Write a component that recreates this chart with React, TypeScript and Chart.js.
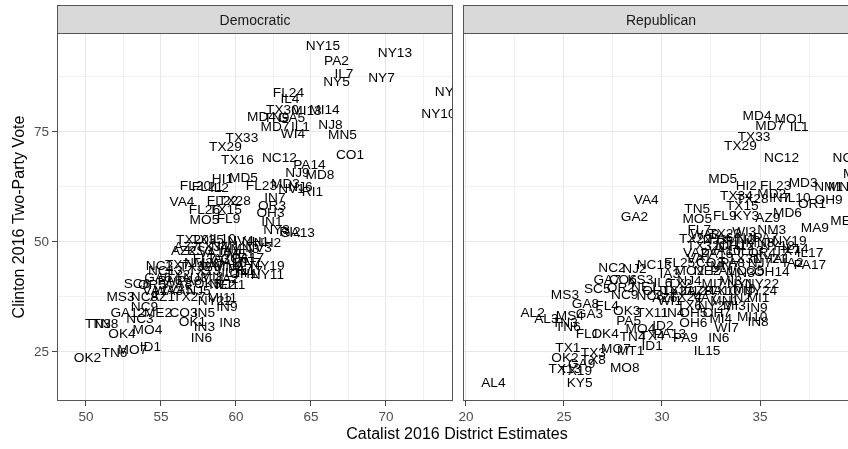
import React, { useEffect, useRef } from "react";
import { Chart, registerables } from "chart.js";

Chart.register(...registerables);

const FONT = '"Liberation Sans", Arial, Helvetica, sans-serif';

// Democratic panel: district, Catalist estimate, Clinton two-party vote
const demDistricts = [
  "NY15", "NY13", "PA2", "IL7", "NY5", "NY7", "NY16", "NY10", "FL24", "IL4",
  "TX30", "MI13", "MI14", "MD4", "TN9", "GA5", "MD7", "IL1", "NJ8", "WI4",
  "MN5", "TX33", "TX29", "CO1", "TX16", "NC12", "PA14", "NJ9", "MD8", "HI1",
  "MD5", "FL20", "FL21", "IL2", "FL23", "MD3", "NV1", "NJ6", "RI1", "VA4",
  "FL22", "TX28", "IN7", "OR3", "OH3", "FL26", "TX15", "MO5", "FL9", "IN1",
  "NY3", "RI2", "GA13", "TX20", "TX35", "IL10", "NV4", "NH1", "NH2", "AZ2",
  "KS3", "VA10", "IA1", "MN3", "NV3", "FL7", "IA3", "CO6", "PA17", "NC2",
  "TX7", "TX32", "VA7", "MN2", "PA7", "NY19", "GA6", "TX2", "NJ3", "MI8",
  "IA2", "OH1", "NY11", "SC6", "OR5", "WA8", "VA5", "OK5", "NE2", "MS3",
  "NC8", "AZ1", "TX27", "MI11", "NC9", "GA12", "ME2", "CO3", "IN5", "IN9",
  "TN3", "TN8", "NC3", "OK4", "MO4", "OK1", "IN3", "IN8", "IN6", "OK2",
  "TN6", "MO7", "ID1", "AZ7", "TX34", "NM2", "WA10", "MN7", "ME1", "NM1",
  "TX23", "IL14", "IL17", "PA8", "NJ11", "NJ5", "WA3", "NC13", "NY22", "PA6",
  "VA1",
];
const demEstimate = [
  65.8, 70.6, 66.7, 67.2, 66.7, 69.7, 74.4, 73.5, 63.5, 63.6,
  63.1, 64.7, 65.9, 61.7, 62.7, 63.7, 62.6, 64.3, 66.3, 63.8,
  67.1, 60.4, 59.3, 67.6, 60.1, 62.9, 64.9, 64.1, 65.6, 59.1,
  60.5, 57.3, 58.1, 58.9, 61.7, 63.3, 63.7, 64.3, 65.1, 56.4,
  59.1, 59.9, 62.6, 62.4, 62.3, 57.9, 59.3, 57.9, 59.5, 62.4,
  62.7, 63.6, 64.1, 57.1, 58.1, 59.1, 60.3, 61.3, 62.1, 56.5,
  57.6, 58.6, 59.6, 60.6, 61.5, 57.9, 58.9, 59.9, 60.8, 54.9,
  56.1, 57.3, 58.4, 59.5, 60.3, 62.1, 54.8, 56.1, 57.3, 58.4,
  59.5, 60.5, 62.1, 53.4, 54.4, 56.1, 56.3, 58.1, 59.1, 52.3,
  53.9, 55.1, 56.9, 59.1, 53.9, 52.8, 54.8, 56.5, 57.9, 59.4,
  50.8, 51.3, 53.6, 52.4, 54.1, 57.1, 57.9, 59.6, 57.7, 50.1,
  51.9, 53.1, 54.3, 56.7, 58.4, 57.5, 59.5, 60.7, 60.3, 59.3,
  57.9, 59.9, 60.9, 56.9, 59.6, 57.5, 55.5, 55.3, 58.6, 55.6,
  54.6,
];
const demClinton = [
  94.7, 93.1, 91.3, 88.3, 86.5, 87.4, 84.2, 79.3, 84.0, 82.7,
  80.2, 79.9, 80.2, 78.6, 78.3, 78.3, 76.3, 76.3, 76.8, 74.7,
  74.5, 73.8, 71.8, 69.9, 68.8, 69.2, 67.7, 65.8, 65.4, 64.5,
  64.7, 62.9, 62.7, 62.4, 62.9, 63.3, 62.2, 62.7, 61.5, 59.2,
  59.5, 59.5, 60.2, 58.3, 56.8, 57.4, 57.4, 55.2, 55.4, 54.7,
  52.9, 52.4, 52.2, 50.6, 50.6, 50.8, 50.4, 50.2, 49.9, 48.1,
  48.1, 47.7, 48.1, 48.6, 48.8, 46.3, 46.3, 46.3, 46.5, 44.7,
  44.9, 44.5, 44.7, 44.5, 44.0, 44.7, 42.0, 42.7, 42.0, 42.2,
  41.8, 42.9, 42.7, 40.6, 40.4, 40.6, 39.2, 40.6, 40.4, 37.7,
  37.7, 37.7, 37.7, 37.4, 35.4, 34.0, 34.0, 34.0, 34.0, 35.4,
  31.5, 31.5, 32.7, 29.2, 30.1, 32.0, 30.8, 31.8, 28.3, 23.8,
  24.9, 25.6, 26.3, 49.0, 49.0, 45.4, 45.4, 45.4, 47.4, 49.2,
  43.6, 43.1, 43.6, 41.3, 40.4, 39.0, 39.0, 43.6, 36.8, 41.3,
  39.0,
];

// Republican panel: district, Catalist estimate, Clinton two-party vote
const repDistricts = [
  "MD4", "MO1", "MD7", "IL1", "TX33", "TX29", "NC12", "NC4", "MA7", "MD5",
  "HI2", "FL23", "MD3", "NM1", "MN4", "TX34", "MD2", "IN7", "IL10", "OR1",
  "OH9", "TX28", "TX15", "TN5", "MO5", "FL9", "KY3", "AZ9", "MD6", "MA9",
  "ME1", "VA4", "GA2", "NM3", "FL7", "WA3", "WI3", "TX23", "TX22", "PA6",
  "NJ5", "NY19", "MN8", "TX32", "NJ11", "OH12", "NY18", "IL14", "VA2", "PA16",
  "VA10", "IL13", "OR4", "IL17", "NY21", "IA1", "CO3", "PA8", "NJ7", "IA2",
  "PA17", "OH14", "NC13", "NC2", "NJ2", "IA3", "MO2", "NE2", "PA1", "MN3",
  "NY22", "GA7", "CO6", "KS3", "IL6", "TX2", "MI7", "NY1", "MI8", "SC5",
  "OR2", "TX21", "IL12", "PA10", "MI6", "NC9", "NC8", "AZ6", "TX24", "VA7",
  "MN1", "IN2", "MI1", "IN9", "MI10", "IN8", "FL4", "GA8", "MS3", "AL2",
  "AL3", "MS4", "GA3", "TN3", "TN6", "FL1", "OK4", "OK3", "TX11", "IN4",
  "OH5", "OH7", "PA5", "MO4", "ID2", "OH6", "MI4", "WI7", "TN4", "TX4",
  "ID1", "PA9", "PA13", "IN6", "IL15", "TX1", "TX3", "MO7", "MT1", "OK2",
  "TX8", "MO8", "TX13", "TX19", "GA9", "KY5", "AL4", "NJ3", "MN2", "PA7",
  "VA1", "TX31", "MN7", "NJ4", "CO5", "AZ8", "TX10", "NY24", "NY27", "MI3",
  "TX6", "FL25", "OH16", "NE1", "WI1", "TX7",
];
const repEstimate = [
  34.85, 36.5, 35.5, 37.0, 34.7, 34.0, 36.1, 39.4, 39.95, 33.1,
  34.3, 35.8, 37.2, 38.5, 39.2, 33.8, 35.6, 36.0, 36.9, 37.65,
  38.5, 34.6, 34.1, 31.8, 31.8, 33.2, 34.3, 35.4, 36.4, 37.8,
  39.3, 29.2, 28.6, 35.6, 31.9, 32.2, 34.2, 33.2, 31.7, 33.0,
  34.4, 36.5, 35.0, 32.1, 33.5, 33.8, 35.9, 36.8, 31.7, 32.8,
  33.2, 34.5, 35.1, 37.55, 35.5, 36.0, 32.45, 33.6, 35.0, 36.7,
  37.55, 35.6, 29.6, 27.45, 28.6, 30.4, 31.4, 32.3, 33.1, 34.0,
  35.1, 27.2, 28.0, 28.9, 30.05, 30.9, 32.6, 34.0, 33.5, 26.7,
  27.9, 30.8, 31.6, 33.0, 34.2, 28.1, 29.4, 30.15, 31.2, 32.2,
  33.2, 34.0, 34.9, 34.85, 34.6, 34.9, 27.2, 26.1, 25.05, 23.4,
  24.1, 25.3, 26.3, 25.05, 25.2, 26.2, 27.1, 28.2, 29.5, 30.6,
  31.6, 32.8, 28.3, 28.9, 30.05, 31.6, 33.0, 33.3, 28.5, 29.5,
  29.5, 31.2, 30.4, 32.9, 32.3, 25.2, 26.5, 27.65, 28.4, 25.05,
  26.5, 28.1, 25.05, 25.6, 25.9, 25.8, 21.4, 32.7, 34.0, 35.3,
  31.9, 34.2, 33.2, 31.4, 34.5, 31.9, 33.2, 35.0, 32.7, 33.7,
  31.4, 30.9, 29.9, 29.1, 30.4, 36.4,
];
const repClinton = [
  78.8, 78.1, 76.5, 76.3, 74.0, 72.0, 69.3, 69.3, 65.6, 64.5,
  62.9, 62.9, 63.6, 62.7, 62.7, 60.6, 61.1, 60.2, 60.2, 58.8,
  59.7, 59.9, 58.3, 57.6, 55.4, 56.1, 56.1, 55.6, 56.8, 53.3,
  54.9, 59.7, 55.8, 52.9, 52.9, 51.9, 52.4, 52.1, 50.8, 51.1,
  51.1, 50.4, 49.9, 49.2, 49.6, 49.2, 49.2, 48.5, 47.6, 47.4,
  48.1, 48.1, 47.6, 47.6, 46.3, 46.3, 45.4, 45.4, 45.4, 45.4,
  44.9, 43.4, 44.9, 44.2, 44.0, 42.9, 43.6, 43.6, 43.6, 43.1,
  40.6, 41.5, 41.5, 41.5, 40.8, 40.6, 40.6, 40.6, 41.3, 39.5,
  39.7, 39.0, 39.0, 39.0, 39.5, 38.1, 37.9, 37.4, 37.7, 37.4,
  36.8, 37.4, 37.4, 35.2, 33.1, 32.0, 35.6, 36.1, 38.1, 34.0,
  32.7, 33.3, 33.8, 31.8, 30.8, 29.2, 29.2, 34.5, 34.0, 34.0,
  34.0, 34.0, 32.2, 30.4, 31.1, 31.8, 32.7, 30.6, 28.5, 28.8,
  26.5, 28.3, 29.2, 28.3, 25.4, 26.1, 24.9, 25.8, 25.4, 23.8,
  23.3, 21.5, 21.3, 20.8, 22.4, 18.1, 18.1, 50.6, 50.6, 51.0,
  46.3, 46.3, 44.7, 41.3, 43.6, 39.0, 39.0, 39.0, 35.6, 35.6,
  35.6, 45.4, 39.0, 40.0, 36.8, 48.1,
];

// Axis ranges and break positions
const demRange = [48.07, 74.47];
const repRange = [19.85, 40.05];
const voteRange = [13.86, 97.5];
const demBreaks = [50, 52.5, 55, 57.5, 60, 62.5, 65, 67.5, 70, 72.5];
const repBreaks = [20, 22.5, 25, 27.5, 30, 32.5, 35, 37.5, 40];
const voteBreaks = [25, 37.5, 50, 62.5, 75, 87.5];

const LABEL_SIZE = 13.7;

const districtLabels = {
  id: "districtLabels",
  afterDatasetsDraw(chart: any) {
    const { ctx, chartArea: a } = chart;
    const meta = chart.getDatasetMeta(0);
    const pts = chart.data.datasets[0].data;
    ctx.save();
    ctx.beginPath();
    ctx.rect(a.left, a.top, a.right - a.left, a.bottom - a.top);
    ctx.clip();
    ctx.font = `${LABEL_SIZE}px ${FONT}`;
    ctx.fillStyle = "#000";
    ctx.textAlign = "center";
    ctx.textBaseline = "alphabetic";
    meta.data.forEach((el: any, i: number) => {
      ctx.fillText(pts[i].name, el.x, el.y + LABEL_SIZE * 0.358);
    });
    ctx.restore();
  },
};

// Strip, panel border and the shared axis titles
const facetFrame = {
  id: "facetFrame",
  afterDraw(chart: any, _args: any, opts: any) {
    const { ctx, chartArea: a } = chart;
    const w = a.right - a.left;
    ctx.save();
    // strip
    ctx.fillStyle = "#D9D9D9";
    ctx.fillRect(a.left, 5, w, a.top - 5);
    ctx.strokeStyle = "#555";
    ctx.lineWidth = 1;
    ctx.strokeRect(a.left + 0.5, 5.5, w - 1, a.top - 5);
    ctx.fillStyle = "#1A1A1A";
    ctx.font = `14px ${FONT}`;
    ctx.textAlign = "center";
    ctx.textBaseline = "alphabetic";
    ctx.fillText(opts.strip, a.left + w / 2, 24.5);
    // panel border
    ctx.strokeRect(a.left + 0.5, a.top + 0.5, w - 1, a.bottom - a.top - 1);
    if (opts.xTitle) {
      ctx.fillStyle = "#000";
      ctx.font = `16px ${FONT}`;
      ctx.fillText(opts.xTitle, 457, 439);
    }
    if (opts.yTitle) {
      ctx.translate(24, (a.top + a.bottom) / 2);
      ctx.rotate(-Math.PI / 2);
      ctx.fillStyle = "#000";
      ctx.font = `16px ${FONT}`;
      ctx.fillText(opts.yTitle, 0, 0);
    }
    ctx.restore();
  },
};

function panelConfig(p: {
  names: string[];
  xs: number[];
  ys: number[];
  xRange: number[];
  xBreaks: number[];
  strip: string;
  padLeft: number;
  padRight: number;
  yAxisWidth: number;
  showYLabels: boolean;
  xTitle?: string;
  yTitle?: string;
}): any {
  const isMajorX = (v: number) => Math.abs(v % 5) < 1e-9;
  const isMajorY = (v: number) => Math.abs(v % 25) < 1e-9;
  return {
    type: "scatter",
    data: {
      datasets: [
        {
          data: p.xs.map((x, i) => ({ x, y: p.ys[i], name: p.names[i] })),
          pointRadius: 0,
          pointHoverRadius: 0,
          pointHitRadius: 0,
        },
      ],
    },
    options: {
      responsive: false,
      animation: false,
      devicePixelRatio: 1,
      events: [],
      layout: { padding: { left: p.padLeft, right: p.padRight, top: 33, bottom: 0 } },
      plugins: {
        legend: { display: false },
        tooltip: { enabled: false },
        facetFrame: { strip: p.strip, xTitle: p.xTitle, yTitle: p.yTitle },
      },
      scales: {
        x: {
          type: "linear",
          position: "bottom",
          min: p.xRange[0],
          max: p.xRange[1],
          afterBuildTicks: (s: any) => {
            s.ticks = p.xBreaks.map((value) => ({ value }));
          },
          afterFit: (s: any) => {
            s.height = 48;
          },
          border: { display: false },
          grid: {
            color: (c: any) => (c.tick && isMajorX(c.tick.value) ? "#E6E6E6" : "#F1F1F1"),
            lineWidth: 1,
            tickLength: 5,
            tickWidth: 1,
            tickColor: (c: any) => (c.tick && isMajorX(c.tick.value) ? "#444" : "rgba(0,0,0,0)"),
          },
          ticks: {
            autoSkip: false,
            maxRotation: 0,
            padding: 3,
            color: "#4D4D4D",
            font: { family: FONT, size: 13.5 },
            callback: (v: any) => (isMajorX(Number(v)) ? String(v) : ""),
          },
        },
        y: {
          type: "linear",
          position: "left",
          min: voteRange[0],
          max: voteRange[1],
          afterBuildTicks: (s: any) => {
            s.ticks = voteBreaks.map((value) => ({ value }));
          },
          afterFit: (s: any) => {
            s.width = p.yAxisWidth;
          },
          border: { display: false },
          grid: {
            color: (c: any) => (c.tick && isMajorY(c.tick.value) ? "#E6E6E6" : "#F1F1F1"),
            lineWidth: 1,
            drawTicks: p.showYLabels,
            tickLength: 5,
            tickWidth: 1,
            tickColor: (c: any) => (c.tick && isMajorY(c.tick.value) ? "#444" : "rgba(0,0,0,0)"),
          },
          ticks: {
            display: p.showYLabels,
            autoSkip: false,
            padding: 3,
            color: "#4D4D4D",
            font: { family: FONT, size: 13.5 },
            callback: (v: any) => (isMajorY(Number(v)) ? String(v) : ""),
          },
        },
      },
    },
    plugins: [districtLabels, facetFrame],
  };
}

export default function App() {
  const demRef = useRef<HTMLCanvasElement>(null);
  const repRef = useRef<HTMLCanvasElement>(null);

  useEffect(() => {
    const rep = new Chart(
      repRef.current as HTMLCanvasElement,
      panelConfig({
        names: repDistricts,
        xs: repEstimate,
        ys: repClinton,
        xRange: repRange,
        xBreaks: repBreaks,
        strip: "Republican",
        padLeft: 463,
        padRight: 11,
        yAxisWidth: 0,
        showYLabels: false,
      })
    );
    const dem = new Chart(
      demRef.current as HTMLCanvasElement,
      panelConfig({
        names: demDistricts,
        xs: demEstimate,
        ys: demClinton,
        xRange: demRange,
        xBreaks: demBreaks,
        strip: "Democratic",
        padLeft: 0,
        padRight: 395,
        yAxisWidth: 57,
        showYLabels: true,
        xTitle: "Catalist 2016 District Estimates",
        yTitle: "Clinton 2016 Two-Party Vote",
      })
    );
    return () => {
      dem.destroy();
      rep.destroy();
    };
  }, []);

  return (
    <div
      style={{
        position: "absolute",
        left: 0,
        top: 0,
        width: 848,
        height: 449,
        overflow: "hidden",
        background: "#fff",
      }}
    >
      <canvas ref={repRef} width={870} height={449} style={{ position: "absolute", left: 0, top: 0 }} />
      <canvas ref={demRef} width={848} height={449} style={{ position: "absolute", left: 0, top: 0 }} />
    </div>
  );
}
